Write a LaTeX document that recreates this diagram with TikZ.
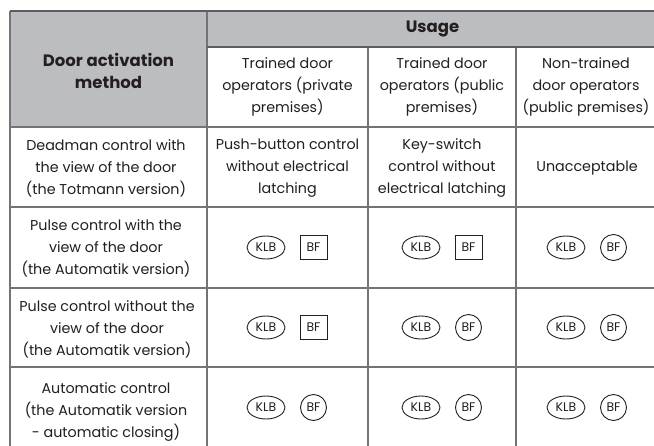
\documentclass[tikz,border=0pt]{standalone}
\usepackage{fontspec}
\setmainfont{Poppins}
\usetikzlibrary{shapes.geometric}
\definecolor{hdr}{HTML}{BCBDC0}
\definecolor{gridc}{HTML}{737476}
\definecolor{ink}{HTML}{231F20}
\begin{document}
\begin{tikzpicture}[x=1pt,y=-1pt,
  cell/.style={align=center, font=\fontsize{14.3}{22}\selectfont, text=ink, inner sep=0pt},
  hd/.style={align=center, font=\fontsize{16.5}{22}\selectfont\bfseries, text=ink, inner sep=0pt},
  symb/.style={draw=ink, line width=0.9pt, inner sep=0pt, text=ink, font=\fontsize{12.5}{12}\selectfont},
  klb/.style={symb, ellipse, minimum width=38pt, minimum height=23pt},
  bfc/.style={symb, circle, minimum size=26pt},
  bfs/.style={symb, rectangle, minimum width=27pt, minimum height=24pt},
  gline/.style={draw=gridc, line width=1.3pt},
  hline/.style={draw=gridc!80!black, line width=1.8pt}]
\useasboundingbox (0,0) rectangle (654,445);
\clip (0,0) rectangle (654,445);
\fill[white] (0,0) rectangle (654,445);
% header fills
\fill[hdr] (10,11) rectangle (207,127);
\fill[hdr] (207,11) rectangle (660,47);
% grid lines
\draw[gline] (10,11) -- (10,450);
\draw[gline] (207,11) -- (207,450);
\draw[gline] (368,47) -- (368,450);
\draw[gline] (516,47) -- (516,450);
\draw[gline] (10,127) -- (660,127);
\draw[gline] (10,207) -- (660,207);
\draw[gline] (10,288) -- (660,288);
\draw[gline] (10,367) -- (660,367);
\draw[hline] (10,11) -- (660,11);
\draw[hline] (207,47) -- (660,47);
% header texts
\node[hd] (dam) at (108.5,71) {Door activation\\method};
\node[hd] (usage) at (432.5,29) {Usage};
\node[cell] (u1) at (287.5,87) {Trained door\\operators (private\\premises)};
\node[cell] (u2) at (442,87) {Trained door\\operators (public\\premises)};
\node[cell] (u3) at (586,87) {Non-trained\\door operators\\(public premises)};
% first column
\node[cell] (m1) at (106,168) {Deadman control with\\the view of the door\\(the Totmann version)};
\node[cell] (m2) at (106,248) {Pulse control with the\\view of the door\\(the Automatik version)};
\node[cell] (m3) at (107,329) {Pulse control without the\\view of the door\\(the Automatik version)};
\node[cell] (m4) at (106,412) {Automatic control\\(the Automatik version\\- automatic closing)};
% row 1
\node[cell] (r1a) at (287.5,168) {Push-button control\\without electrical\\latching};
\node[cell] (r1b) at (442,168) {Key-switch\\control without\\electrical latching};
\node[cell] (r1c) at (587,168) {Unacceptable};
% row 2
\node[klb] (r2ak) at (266,247.5) {KLB};
\node[bfs] (r2ab) at (313.5,247.5) {BF};
\node[klb] (r2bk) at (421,247.5) {KLB};
\node[bfs] (r2bb) at (468.5,247.5) {BF};
\node[klb] (r2ck) at (566,247.5) {KLB};
\node[bfc] (r2cb) at (613.5,247.5) {BF};
% row 3
\node[klb] (r3ak) at (266,327.5) {KLB};
\node[bfs] (r3ab) at (313.5,327.5) {BF};
\node[klb] (r3bk) at (421,327.5) {KLB};
\node[bfc] (r3bb) at (468.5,327.5) {BF};
\node[klb] (r3ck) at (566,327.5) {KLB};
\node[bfc] (r3cb) at (613.5,327.5) {BF};
% row 4
\node[klb] (r4ak) at (266,407.5) {KLB};
\node[bfc] (r4ab) at (313.5,407.5) {BF};
\node[klb] (r4bk) at (421,407.5) {KLB};
\node[bfc] (r4bb) at (468.5,407.5) {BF};
\node[klb] (r4ck) at (566,407.5) {KLB};
\node[bfc] (r4cb) at (613.5,407.5) {BF};
\end{tikzpicture}
\end{document}
